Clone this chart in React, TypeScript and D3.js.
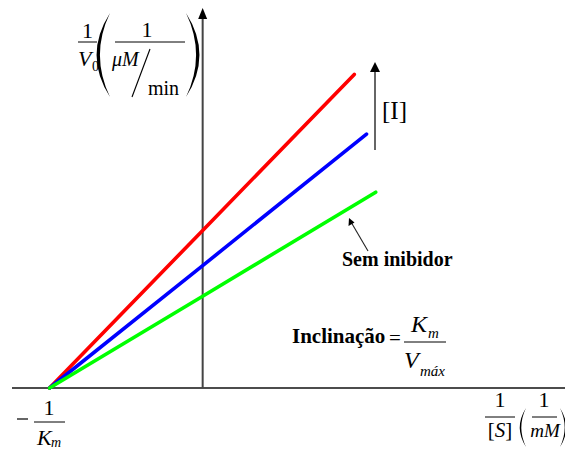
import React from "react";
import * as d3 from "d3";

// Lineweaver–Burk plot: 1/V0 against 1/[S] for three inhibitor levels
const seriesNames = ["[I] alta", "[I] média", "Sem inibidor"];
const seriesColors = ["#ff0000", "#0000ff", "#00ff00"];
const xStart = [-1, -1, -1]; // all lines meet at -1/Km
const yIntercepts = [1.03, 0.8, 0.6]; // 1/Vmax for each line
const xEnds = [0.99, 1.07, 1.13];
const yEnds = [2.05, 1.66, 1.28];

const W = 565;
const H = 450;
const xDomain = [-1.245, 2.366];
const yDomain = [0, 2.48];

const serif = "Liberation Serif, Times New Roman, serif";

// stretched parenthesis: thick in the middle, thin at the ends
const paren = (cx: number, top: number, bottom: number, dir: number) => {
  const mid = (top + bottom) / 2;
  const h = bottom - top;
  const outer = cx + dir * h * 0.16;
  const inner = cx + dir * h * 0.12;
  return `M${cx},${top} Q${outer * 2 - cx},${mid} ${cx},${bottom} Q${inner * 2 - cx},${mid} ${cx},${top} Z`;
};

export default function App() {
  const x = d3.scaleLinear().domain(xDomain).range([12, W]);
  const y = d3.scaleLinear().domain(yDomain).range([388, 8.6]);

  const line = d3
    .line<[number, number]>()
    .x((d) => x(d[0]))
    .y((d) => y(d[1]));

  const x0 = x(0);
  const yAxisY = y(0);

  const T = (props: any) => (
    <text {...props} style={{ fontFamily: serif, ...(props.style || {}) }} />
  );

  return (
    <svg
      width={W}
      height={H}
      style={{ position: "absolute", left: 0, top: 0, background: "#fff", fontFamily: serif }}
    >
      {/* axes */}
      <line x1={12} x2={W} y1={yAxisY} y2={yAxisY} stroke="#111" strokeWidth={1.6} />
      <line x1={x0} x2={x0} y1={yAxisY} y2={18} stroke="#444" strokeWidth={2} />
      <path d={`M${x0},8 L${x0 - 4.5},19 L${x0 + 4.5},19 Z`} fill="#000" />

      {/* data lines */}
      {seriesNames.map((name, i) => (
        <path
          key={name}
          d={line([
            [xStart[i], 0],
            [0, yIntercepts[i]],
            [xEnds[i], yEnds[i]],
          ])!}
          fill="none"
          stroke={seriesColors[i]}
          strokeWidth={3.6}
          strokeLinecap="round"
        />
      ))}

      {/* increasing [I] arrow */}
      <line x1={375} x2={375} y1={150} y2={70} stroke="#333" strokeWidth={1.5} />
      <path d="M375,62 L370,72 L380,72 Z" fill="#000" />
      <T x={382} y={119} fontSize={25}>[I]</T>

      {/* Sem inibidor label and pointer */}
      <T x={342} y={266} fontSize={20} fontWeight="bold">Sem inibidor</T>
      <line x1={368} x2={351} y1={251} y2={222} stroke="#222" strokeWidth={1.1} />
      <path d="M349,218 L348.5,226 L354.5,222.5 Z" fill="#000" />

      {/* slope expression */}
      <T x={292} y={343} fontSize={21} fontWeight="bold">Inclinação</T>
      <T x={389} y={345} fontSize={21}>=</T>
      <line x1={404} x2={446} y1={342} y2={342} stroke="#000" strokeWidth={1} />
      <T x={411} y={332} fontSize={24} fontStyle="italic">K</T>
      <T x={428} y={338} fontSize={15} fontStyle="italic">m</T>
      <T x={404} y={368} fontSize={24} fontStyle="italic">V</T>
      <T x={420} y={376} fontSize={15} fontStyle="italic">máx</T>

      {/* y axis label: 1/V0 (1 / (μM/min)) */}
      <T x={87.5} y={38} fontSize={22} textAnchor="middle">1</T>
      <line x1={78} x2={97} y1={42} y2={42} stroke="#000" strokeWidth={1} />
      <T x={78} y={66} fontSize={22} fontStyle="italic">V</T>
      <T x={92} y={71} fontSize={14}>0</T>
      <path d={paren(110, 13, 97, -1)} fill="#000" />
      <T x={147} y={37} fontSize={22} textAnchor="middle">1</T>
      <line x1={115} x2={185} y1={42} y2={42} stroke="#000" strokeWidth={1} />
      <T x={112} y={66} fontSize={20} fontStyle="italic">μM</T>
      <line x1={132} x2={150} y1={97} y2={49} stroke="#000" strokeWidth={1.1} />
      <T x={148} y={95} fontSize={20}>min</T>
      <path d={paren(186, 13, 97, 1)} fill="#000" />

      {/* x intercept label: -1/Km */}
      <line x1={17} x2={28} y1={419} y2={419} stroke="#000" strokeWidth={1.2} />
      <T x={49} y={415} fontSize={22} textAnchor="middle">1</T>
      <line x1={34} x2={65} y1={422} y2={422} stroke="#000" strokeWidth={1} />
      <T x={37} y={445} fontSize={22} fontStyle="italic">K</T>
      <T x={51} y={447} fontSize={14} fontStyle="italic">m</T>

      {/* x axis label: 1/[S] (1/mM) */}
      <T x={500} y={407} fontSize={22} textAnchor="middle">1</T>
      <line x1={485} x2={515} y1={417} y2={417} stroke="#000" strokeWidth={1} />
      <T x={500} y={437} fontSize={21} textAnchor="middle">
        [<tspan fontStyle="italic">S</tspan>]
      </T>
      <path d={paren(526, 408, 447, -1)} fill="#000" />
      <T x={544} y={407} fontSize={22} textAnchor="middle">1</T>
      <line x1={532} x2={557} y1={417} y2={417} stroke="#000" strokeWidth={1} />
      <T x={545} y={437} fontSize={19} fontStyle="italic" textAnchor="middle">mM</T>
      <path d={paren(560, 408, 447, 1)} fill="#000" />
    </svg>
  );
}
